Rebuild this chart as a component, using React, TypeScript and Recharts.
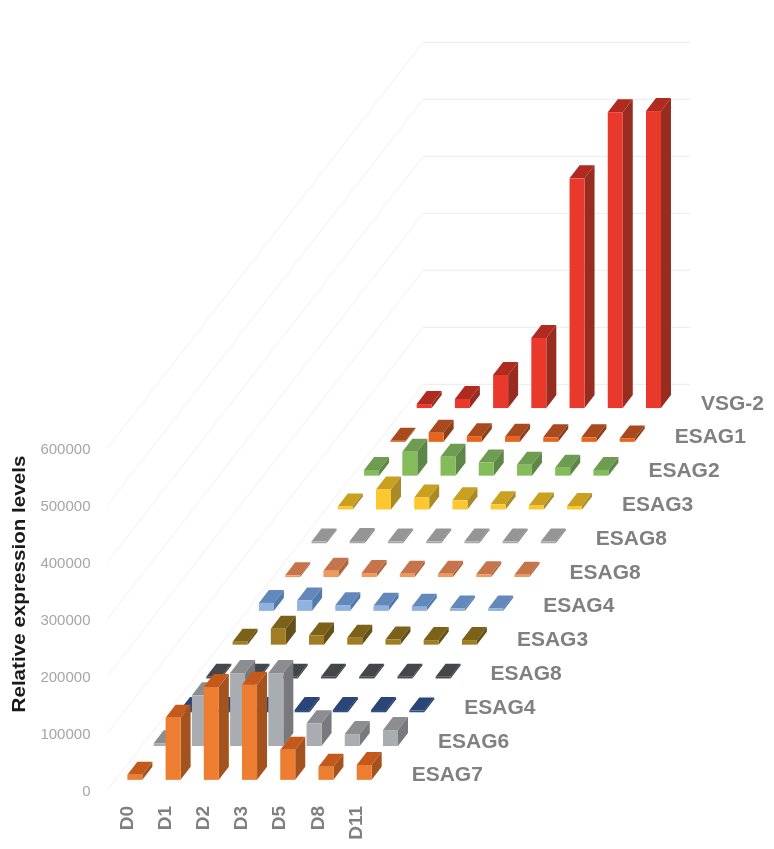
import { BarChart, Bar, CartesianGrid, XAxis, YAxis } from "recharts";

const days = ["D0", "D1", "D2", "D3", "D5", "D8", "D11"];

// front row first, back row last
const rowKeys = ["r0", "r1", "r2", "r3", "r4", "r5", "r6", "r7", "r8", "r9", "r10", "r11"];
const rowNames = ["ESAG7", "ESAG6", "ESAG4", "ESAG8", "ESAG3", "ESAG4", "ESAG8", "ESAG8", "ESAG3", "ESAG2", "ESAG1", "VSG-2"];

const esag7 = [9000, 109000, 163000, 167000, 53000, 23000, 26000];
const esag6 = [5000, 89000, 128000, 128000, 40000, 21000, 28000];
const esag4a = [4000, 4000, 4000, 4000, 4000, 4000, 3000];
const esag8a = [3000, 3000, 3000, 3000, 3000, 3000, 3000];
const esag3a = [5000, 28000, 16000, 12000, 9000, 8000, 8000];
const esag4b = [14000, 18000, 10000, 9000, 7000, 4000, 4000];
const esag8b = [3000, 11000, 7000, 6000, 6000, 5000, 4000];
const esag8c = [3000, 4000, 3000, 3000, 3000, 3000, 3000];
const esag3b = [5000, 35000, 21000, 16000, 9000, 7000, 6000];
const esag2 = [10000, 42000, 33000, 23000, 19000, 14000, 10000];
const esag1 = [2000, 16000, 10000, 9000, 8000, 8000, 6000];
const vsg2 = [7000, 16000, 58000, 123000, 403000, 519000, 521000];

const rowValues = [esag7, esag6, esag4a, esag8a, esag3a, esag4b, esag8b, esag8c, esag3b, esag2, esag1, vsg2];

const yTicks = [0, 100000, 200000, 300000, 400000, 500000, 600000];

const frontColors = ["#ED7D31", "#A9ACB0", "#2F4F86", "#4A4D52", "#A07D22", "#8FB2DE", "#F0995E", "#A8A8A8", "#FFC72F", "#84BC5C", "#E8641C", "#E8392C"];
const topColors = ["#C4591C", "#8B8D90", "#2A4576", "#43464B", "#7C6118", "#6389BC", "#C6744C", "#959595", "#C9A020", "#6E9C50", "#A84A1E", "#B02A20"];
const sideColors = ["#A5531E", "#77797C", "#22385F", "#3A3D41", "#66501A", "#527AAD", "#B0653F", "#858585", "#A98A26", "#5D8746", "#8C3F18", "#982C20"];

const data = days.map((day, i) => {
  const row: any = { day };
  rowKeys.forEach((k, r) => {
    row[k] = rowValues[r][i];
  });
  return row;
});

// how far each row sits behind the front of the floor
const ROW_DX = 26.3;
const ROW_DY = 33.8;
const BAR_DX = 10;
const BAR_DY = 13;
const FLOOR_ROWS = 12;

const rowShape = (r: number) => (props: any) => {
  const { x, y, width, height, index } = props;
  const ox = x + ROW_DX * (r + 0.3);
  const oy = y - ROW_DY * (r + 0.3);
  const right = ox + width;
  const bottom = oy + height;
  return (
    <g>
      <polygon
        points={`${ox},${oy} ${ox + BAR_DX},${oy - BAR_DY} ${right + BAR_DX},${oy - BAR_DY} ${right},${oy}`}
        fill={topColors[r]}
      />
      <polygon
        points={`${right},${oy} ${right + BAR_DX},${oy - BAR_DY} ${right + BAR_DX},${bottom - BAR_DY} ${right},${bottom}`}
        fill={sideColors[r]}
      />
      <rect x={ox} y={oy} width={width} height={height} fill={frontColors[r]} />
      {index === days.length - 1 && (
        <text
          x={right + 40}
          y={bottom + 1.5}
          fontFamily="Liberation Sans"
          fontWeight="bold"
          fontSize={21}
          fill="#808080"
        >
          {rowNames[r]}
        </text>
      )}
    </g>
  );
};

// floor edge and back wall for each value tick
function WallLine(props: any) {
  const { x1, x2, y1 } = props;
  const backY = y1 - ROW_DY * FLOOR_ROWS;
  const backX = x1 + ROW_DX * FLOOR_ROWS;
  const endX = x2 + ROW_DX * FLOOR_ROWS;
  return (
    <g>
      <line x1={x1} y1={y1} x2={backX} y2={backY} stroke="#F7F5F3" strokeWidth={1.2} />
      <line x1={backX} y1={backY} x2={endX} y2={backY} stroke="#EFEFEF" strokeWidth={1.2} />
    </g>
  );
}

function DayTick({ x, payload }: any) {
  const baseX = x + 6;
  return (
    <text
      x={baseX}
      y={806}
      transform={`rotate(-90 ${baseX} 806)`}
      textAnchor="end"
      fontFamily="Liberation Sans"
      fontWeight="bold"
      fontSize={19}
      fill="#808080"
    >
      {payload.value}
    </text>
  );
}

export default function App() {
  return (
    <div style={{ position: "absolute", left: 0, top: 0, filter: "blur(0.4px)" }}>
      <BarChart
        width={774}
        height={849}
        data={data}
        barSize={15}
        barGap={-15}
        margin={{ top: 448, right: 399, bottom: 0, left: 0 }}
      >
        <CartesianGrid vertical={false} horizontal={(p: any) => <WallLine {...p} />} />
        <XAxis
          dataKey="day"
          height={59}
          interval={0}
          axisLine={false}
          tickLine={false}
          tick={<DayTick />}
        />
        <YAxis
          width={107.5}
          domain={[0, 600000]}
          ticks={yTicks}
          interval={0}
          axisLine={false}
          tickLine={false}
          tickMargin={11}
          tick={{ fontFamily: "Liberation Sans", fontSize: 15, fill: "#A6A6A6", dy: 0.5 }}
          label={{
            content: () => (
              <text
                x={25}
                y={584}
                transform="rotate(-90 25 584)"
                textAnchor="middle"
                textLength={257}
                lengthAdjust="spacingAndGlyphs"
                fontFamily="Liberation Sans"
                fontWeight="bold"
                fontSize={19}
                fill="#1A1A1A"
              >
                Relative expression levels
              </text>
            ),
          }}
        />
        {[...rowKeys].reverse().map((k) => {
          const r = rowKeys.indexOf(k);
          return <Bar key={k} dataKey={k} isAnimationActive={false} shape={rowShape(r)} />;
        })}
      </BarChart>
    </div>
  );
}
